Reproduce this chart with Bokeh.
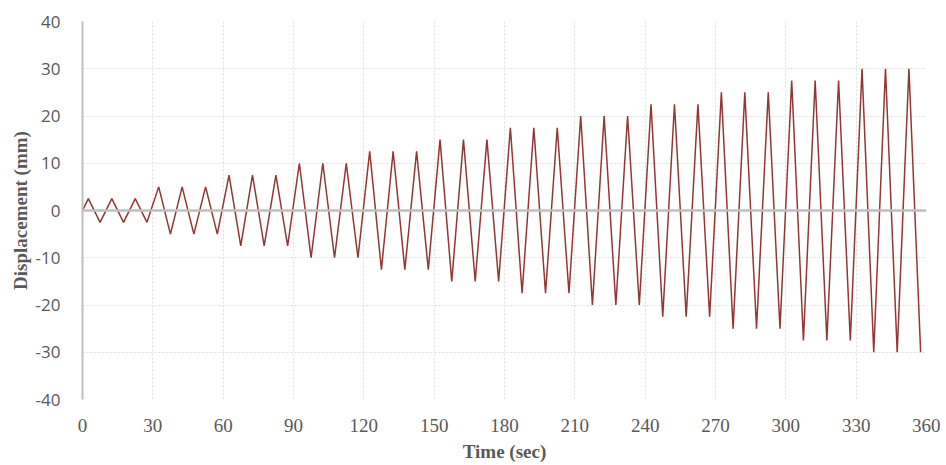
from bokeh.plotting import figure
from bokeh.models import Span, Range1d, FixedTicker
from bokeh.embed import file_html
from bokeh.resources import INLINE

# Time of each turning point (sec) and displacement (mm)
time_sec = [0, 2.5, 7.5, 12.5, 17.5, 22.5, 27.5, 32.5, 37.5, 42.5, 47.5, 52.5, 57.5,
            62.5, 67.5, 72.5, 77.5, 82.5, 87.5, 92.5, 97.5, 102.5, 107.5, 112.5, 117.5,
            122.5, 127.5, 132.5, 137.5, 142.5, 147.5, 152.5, 157.5, 162.5, 167.5, 172.5, 177.5,
            182.5, 187.5, 192.5, 197.5, 202.5, 207.5, 212.5, 217.5, 222.5, 227.5, 232.5, 237.5,
            242.5, 247.5, 252.5, 257.5, 262.5, 267.5, 272.5, 277.5, 282.5, 287.5, 292.5, 297.5,
            302.5, 307.5, 312.5, 317.5, 322.5, 327.5, 332.5, 337.5, 342.5, 347.5, 352.5, 357.5]
displacement = [0, 2.5, -2.5, 2.5, -2.5, 2.5, -2.5,
                5, -5, 5, -5, 5, -5,
                7.5, -7.5, 7.5, -7.5, 7.5, -7.5,
                10, -10, 10, -10, 10, -10,
                12.5, -12.5, 12.5, -12.5, 12.5, -12.5,
                15, -15, 15, -15, 15, -15,
                17.5, -17.5, 17.5, -17.5, 17.5, -17.5,
                20, -20, 20, -20, 20, -20,
                22.5, -22.5, 22.5, -22.5, 22.5, -22.5,
                25, -25, 25, -25, 25, -25,
                27.5, -27.5, 27.5, -27.5, 27.5, -27.5,
                30, -30, 30, -30, 30, -30]
x_ticks = [0, 30, 60, 90, 120, 150, 180, 210, 240, 270, 300, 330, 360]
y_ticks = [-40, -30, -20, -10, 0, 10, 20, 30, 40]

p = figure(frame_width=844, frame_height=378, output_backend="svg", toolbar_location=None,
           x_range=Range1d(0, 360), y_range=Range1d(-40, 40),
           min_border_left=82, min_border_right=14, min_border_top=21, min_border_bottom=60)
p.outline_line_color = None
p.background_fill_color = "white"

p.xaxis.ticker = FixedTicker(ticks=x_ticks)
p.yaxis.ticker = FixedTicker(ticks=y_ticks)
p.yaxis.major_label_overrides = {t: str(t) for t in y_ticks}

grid_color = "#DDDDDD"
p.xgrid.grid_line_color = grid_color
p.xgrid.grid_line_dash = "2 2"
p.ygrid.grid_line_color = grid_color
p.ygrid.grid_line_dash = "2 2"

# x axis
p.xaxis.axis_line_color = None
p.xaxis.major_tick_line_color = None
p.xaxis.minor_tick_line_color = None
p.xaxis.major_label_text_font = "Liberation Serif"
p.xaxis.major_label_text_font_size = "19px"
p.xaxis.major_label_text_color = "#595959"
p.xaxis.major_label_standoff = 13
p.xaxis.axis_label = "Time (sec)"
p.xaxis.axis_label_text_font = "Liberation Serif"
p.xaxis.axis_label_text_font_style = "bold"
p.xaxis.axis_label_text_font_size = "19px"
p.xaxis.axis_label_text_color = "#595959"
p.xaxis.axis_label_standoff = 6

# y axis
p.yaxis.axis_line_color = "#BFBFBF"
p.yaxis.axis_line_width = 2
p.yaxis.major_tick_line_color = None
p.yaxis.minor_tick_line_color = None
p.yaxis.major_label_text_font = "Open Sans"
p.yaxis.major_label_text_font_size = "17px"
p.yaxis.major_label_text_color = "#595959"
p.yaxis.major_label_standoff = 16
p.yaxis.axis_label = "Displacement (mm)"
p.yaxis.axis_label_text_font = "Liberation Serif"
p.yaxis.axis_label_text_font_style = "bold"
p.yaxis.axis_label_text_font_size = "19px"
p.yaxis.axis_label_text_color = "#595959"
p.yaxis.axis_label_standoff = 2

zero = Span(location=0, dimension="width", line_color="#BFBFBF", line_width=2.5)
p.add_layout(zero)

p.line(time_sec, displacement, line_color="#943634", line_width=1.5)

open("out.html", "w").write(file_html(p, INLINE))
